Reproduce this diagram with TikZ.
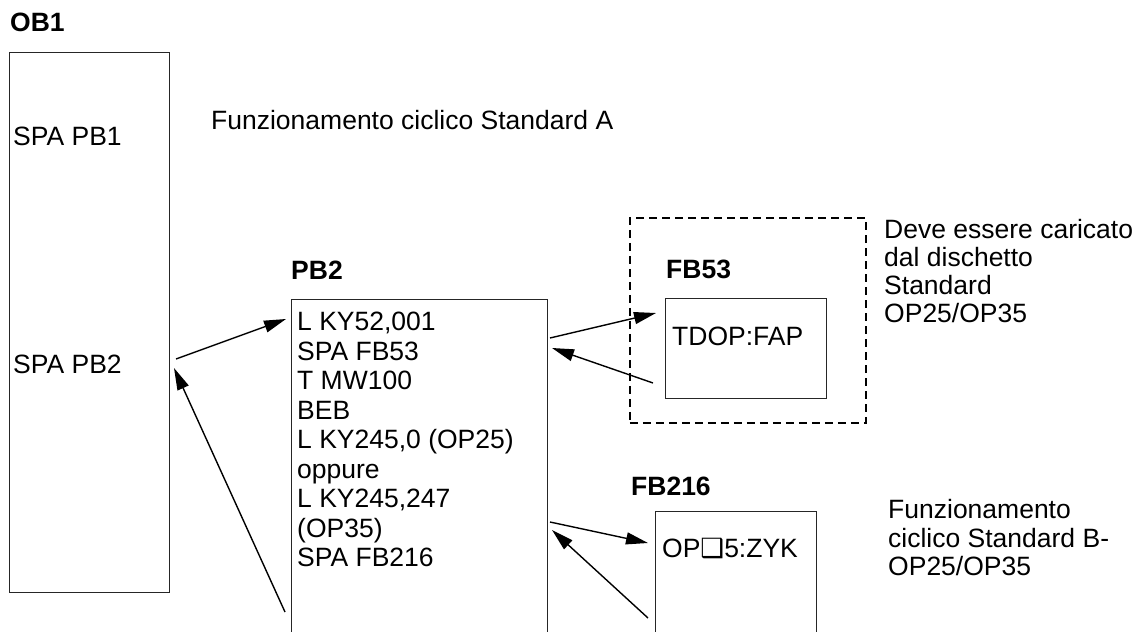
\documentclass[tikz,border=0pt]{standalone}
\usepackage{fontspec}
\setmainfont{Liberation Sans}
\newfontfamily\symfont{DejaVu Sans}
\usetikzlibrary{arrows.meta,calc}
\begin{document}
\begin{tikzpicture}[x=1pt,y=-1pt,
  every node/.style={inner sep=0pt, font=\fontsize{26.5}{29.5}\selectfont},
  box/.style={draw=black!85, line width=0.9pt, anchor=north west},
  dbox/.style={draw=black, line width=1.5pt, dash pattern=on 8pt off 5pt, anchor=north west},
  txt/.style={anchor=base west},
  mtxt/.style={anchor=north west, align=left},
  ttl/.style={anchor=base west, font=\fontsize{26.5}{29.5}\selectfont\bfseries},
  arr/.style={line width=1.4pt, -{Triangle[length=22pt,width=12pt]}}]
\useasboundingbox (0,0) rectangle (1144,632);
\clip (0,0) rectangle (1144,632);
% OB1
\node[ttl] (ob1t) at (10,31) {OB1};
\node[box, minimum width=160pt, minimum height=540pt] (ob1) at (9,52) {};
\node[txt] (spapb1) at (13,145) {SPA PB1};
\node[txt] (spapb2) at (13,373) {SPA PB2};
\node[txt] (fcsa) at (211,129) {Funzionamento ciclico Standard A};
% PB2
\node[ttl] (pb2t) at (291,279) {PB2};
\node[box, minimum width=256pt, minimum height=360pt] (pb2) at (291,299) {};
\node[mtxt] (pb2txt) at (297,312) {L KY52,001\\SPA FB53\\T MW100\\BEB\\L KY245,0 (OP25)\\oppure\\L KY245,247\\(OP35)\\SPA FB216};
% FB53
\node[dbox, minimum width=236pt, minimum height=205pt] (disk) at (629,217) {};
\node[ttl] (fb53t) at (666,278) {FB53};
\node[box, minimum width=161pt, minimum height=100pt] (fb53) at (665,298) {};
\node[txt] (tdop) at (672,345) {TDOP:FAP};
\node[mtxt, font=\fontsize{26.5}{28}\selectfont] (deve) at (884,219.5) {Deve essere caricato\\dal dischetto\\Standard\\OP25/OP35};
% FB216
\node[ttl] (fb216t) at (631,495) {FB216};
\node[box, minimum width=161pt, minimum height=200pt] (fb216) at (655,511) {};
\node[txt] (opzyk) at (662,557.5) {OP{\symfont ❑}5:ZYK};
\node[mtxt, font=\fontsize{26.5}{28.5}\selectfont] (fcsb) at (888,499.5) {Funzionamento\\ciclico Standard B-\\OP25/OP35};
% connectors
\coordinate (ob1out) at (176,359);
\coordinate (pb2in) at (286,319);
\coordinate (pb2ret) at (285,612);
\coordinate (ob1in) at (174,368);
\coordinate (pb2outa) at (550,338);
\coordinate (fb53in) at (656,313);
\coordinate (fb53ret) at (653,383);
\coordinate (pb2ina) at (552,348);
\coordinate (pb2outb) at (550,522);
\coordinate (fb216in) at (648,543);
\coordinate (fb216ret) at (648,618);
\coordinate (pb2inb) at (552,530);
\draw[arr] (ob1out) -- (pb2in);
\draw[arr] (pb2ret) -- (ob1in);
\draw[arr] (pb2outa) -- (fb53in);
\draw[arr] (fb53ret) -- (pb2ina);
\draw[arr] (pb2outb) -- (fb216in);
\draw[arr] (fb216ret) -- (pb2inb);
\end{tikzpicture}
\end{document}
